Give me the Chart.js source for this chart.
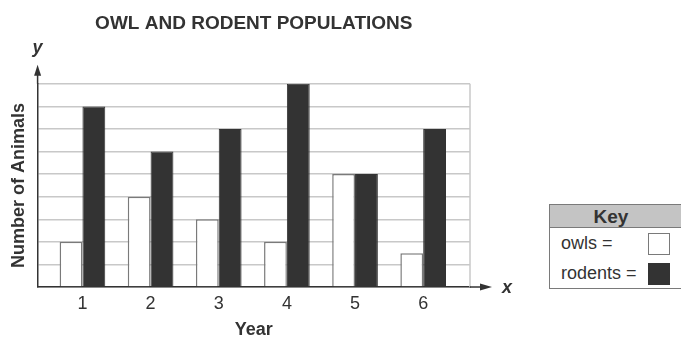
<!DOCTYPE html>
<html>
<head>
<meta charset="utf-8">
<script src="https://cdn.jsdelivr.net/npm/chart.js@4.4.1/dist/chart.umd.min.js"></script>
<style>
  html, body { margin: 0; padding: 0; background: #fff; }
  #wrap { position: relative; width: 681px; height: 337px; }
  #key {
    position: absolute; left: 549px; top: 204px; width: 134px; height: 83px;
    border: 1.5px solid #7a7a7a; font-family: "Liberation Sans", Arial, sans-serif;
    color: #333; background: #fff;
  }
  #key .hd { height: 22px; line-height: 23px; background: #c4c4c4; border-bottom: 1.5px solid #7a7a7a;
    text-align: center; font-weight: bold; font-size: 19px; padding-right: 12px; }
  #key .row { position: relative; height: 30px; line-height: 30px; font-size: 18px; padding-left: 11px; }
  #key .sw { position: absolute; left: 98px; top: 5px; width: 20px; height: 20px; border: 1.5px solid #7a7a7a; }
</style>
</head>
<body>
<div id="wrap">
  <canvas id="chart" width="681" height="337"></canvas>
  <div id="key">
    <div class="hd">Key</div>
    <div class="row">owls =<span class="sw" style="background:#fff"></span></div>
    <div class="row">rodents =<span class="sw" style="background:#333;border-color:#333"></span></div>
  </div>
</div>
<script>
// 資料
const years = [1, 2, 3, 4, 5, 6];
const owls = [2, 4, 3, 2, 5, 1.5];
const rodents = [8, 6, 7, 9, 5, 7];
const yMax = 9;

const FONT = '"Liberation Sans", Arial, Helvetica, sans-serif';

// 額外繪製：箭頭、x/y 標記、右側邊線
const axisExtras = {
  id: 'axisExtras',
  afterDraw(chart) {
    const { ctx, chartArea: a } = chart;
    ctx.save();
    // 右側灰色邊線
    ctx.strokeStyle = '#c8c8c8';
    ctx.lineWidth = 1.5;
    ctx.beginPath();
    ctx.moveTo(a.right, a.top);
    ctx.lineTo(a.right, a.bottom);
    ctx.stroke();

    ctx.strokeStyle = '#333';
    ctx.fillStyle = '#333';
    ctx.lineWidth = 1.5;
    // y 軸延伸 + 箭頭
    ctx.beginPath();
    ctx.moveTo(a.left, a.top);
    ctx.lineTo(a.left, a.top - 14);
    ctx.stroke();
    ctx.beginPath();
    ctx.moveTo(a.left, a.top - 19);
    ctx.lineTo(a.left - 3.5, a.top - 8);
    ctx.lineTo(a.left + 3.5, a.top - 8);
    ctx.closePath();
    ctx.fill();
    // x 軸延伸 + 箭頭
    ctx.beginPath();
    ctx.moveTo(a.right, a.bottom);
    ctx.lineTo(a.right + 14, a.bottom);
    ctx.stroke();
    ctx.beginPath();
    ctx.moveTo(a.right + 22, a.bottom);
    ctx.lineTo(a.right + 10, a.bottom - 3.5);
    ctx.lineTo(a.right + 10, a.bottom + 3.5);
    ctx.closePath();
    ctx.fill();

    ctx.font = 'italic bold 18px ' + FONT;
    ctx.textAlign = 'center';
    ctx.textBaseline = 'middle';
    ctx.fillText('y', a.left, a.top - 36);
    ctx.fillText('x', a.right + 37, a.bottom + 1);
    ctx.restore();
  }
};

new Chart(document.getElementById('chart').getContext('2d'), {
  type: 'bar',
  data: {
    labels: years,
    datasets: [
      {
        label: 'owls',
        data: years.map((y, i) => ({ x: y, y: owls[i] })),
        backgroundColor: '#ffffff',
        borderColor: '#7a7a7a',
        borderWidth: 1.5,
        barPercentage: 1,
        categoryPercentage: 0.67
      },
      {
        label: 'rodents',
        data: years.map((y, i) => ({ x: y, y: rodents[i] })),
        backgroundColor: '#333333',
        borderColor: '#333333',
        borderWidth: 1,
        barPercentage: 1,
        categoryPercentage: 0.67
      }
    ]
  },
  options: {
    responsive: false,
    animation: false,
    layout: { padding: { left: 0, right: 211, top: 0, bottom: -2 } },
    plugins: {
      legend: { display: false },
      tooltip: { enabled: false },
      title: {
        display: true,
        text: 'OWL AND RODENT POPULATIONS',
        fullSize: false,
        color: '#333',
        font: { family: FONT, size: 19, weight: 'bold' },
        padding: { top: 12, bottom: 49 }
      }
    },
    scales: {
      x: {
        type: 'linear',
        offset: false,
        min: 0.342,
        max: 6.687,
        afterBuildTicks: s => { s.ticks = years.map(v => ({ value: v })); },
        grid: { display: false, drawTicks: false },
        border: { display: true, color: '#333', width: 1.5 },
        ticks: { color: '#333', padding: 8, font: { family: FONT, size: 18, lineHeight: 1 } },
        title: {
          display: true,
          text: 'Year',
          color: '#333',
          font: { family: FONT, size: 18, weight: 'bold', lineHeight: 1 },
          padding: { top: 0, bottom: 0 }
        }
      },
      y: {
        min: 0,
        max: yMax,
        ticks: { display: false, stepSize: 1 },
        grid: { color: '#c8c8c8', lineWidth: 1.5, drawTicks: false },
        border: { display: true, color: '#333', width: 1.5 },
        title: {
          display: true,
          text: 'Number of Animals',
          color: '#333',
          font: { family: FONT, size: 18, weight: 'bold' },
          padding: { top: 8, bottom: 8 }
        }
      }
    }
  },
  plugins: [axisExtras]
});
</script>
</body>
</html>
